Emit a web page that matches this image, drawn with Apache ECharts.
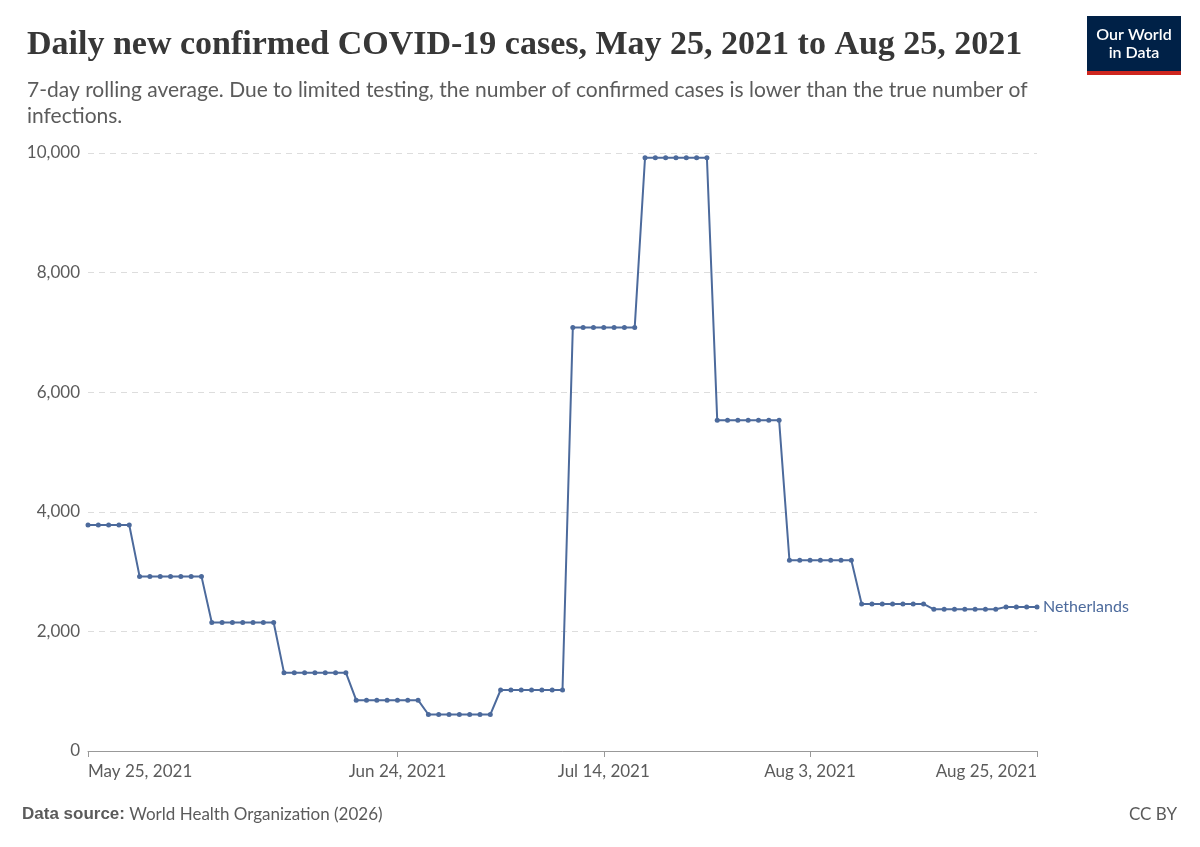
<!DOCTYPE html>
<html>
<head>
<meta charset="utf-8">
<script src="https://cdn.jsdelivr.net/npm/echarts@6/dist/echarts.min.js"></script>
<style>body{margin:0;background:#fff}#chart{width:1200px;height:847px}</style>
</head>
<body>
<div id="chart"></div>
<script>
var startDate = '2021-05-25';
var dayCount = 93;
var values = [
  3780, 3780, 3780, 3780, 3780,
  2920, 2920, 2920, 2920, 2920, 2920, 2920,
  2150, 2150, 2150, 2150, 2150, 2150, 2150,
  1310, 1310, 1310, 1310, 1310, 1310, 1310,
  850, 850, 850, 850, 850, 850, 850,
  610, 610, 610, 610, 610, 610, 610,
  1020, 1020, 1020, 1020, 1020, 1020, 1020,
  7080, 7080, 7080, 7080, 7080, 7080, 7080,
  9920, 9920, 9920, 9920, 9920, 9920, 9920,
  5530, 5530, 5530, 5530, 5530, 5530, 5530,
  3190, 3190, 3190, 3190, 3190, 3190, 3190,
  2460, 2460, 2460, 2460, 2460, 2460, 2460,
  2370, 2370, 2370, 2370, 2370, 2370, 2370,
  2410, 2410, 2410, 2410
];
var tickLabels = {0: 'May 25, 2021', 30: 'Jun 24, 2021', 50: 'Jul 14, 2021', 70: 'Aug 3, 2021', 92: 'Aug 25, 2021'};

var categories = [];
var d0 = new Date(startDate + 'T00:00:00Z');
for (var i = 0; i < dayCount; i++) {
  categories.push(new Date(d0.getTime() + i * 86400000).toISOString().slice(0, 10));
}

var myChart = echarts.init(document.getElementById('chart'));
var option = {
  animation: false,
  textStyle: { fontFamily: 'Lato' },
  grid: { left: 88, right: 163, top: 153, bottom: 96 },
  title: [{
    text: 'Daily new confirmed COVID-19 cases, May 25, 2021 to Aug 25, 2021',
    left: 22, top: 23,
    textStyle: { fontFamily: 'Liberation Serif', fontSize: 34, fontWeight: 'bold', color: '#373737' }
  }, {
    text: '7-day rolling average. Due to limited testing, the number of confirmed cases is lower than the true number of\ninfections.',
    left: 22, top: 72,
    textStyle: { fontFamily: 'Lato', fontSize: 21, fontWeight: 'normal', color: '#5b5b5b', lineHeight: 26 }
  }],
  graphic: [
    { type: 'rect', x: 1087, y: 16, shape: { width: 94, height: 55 }, style: { fill: '#002147' } },
    { type: 'rect', x: 1087, y: 71, shape: { width: 94, height: 4 }, style: { fill: '#ce261e' } },
    { type: 'text', x: 1134, y: 26, style: { text: 'Our World\nin Data', fill: '#fff', font: '600 16px Lato', align: 'center', lineHeight: 18 } },
    { type: 'text', x: 22, y: 806, style: { text: '{b|Data source:} World Health Organization (2026)', fill: '#5b5b5b', font: '17px Lato', rich: { b: { fontWeight: 'bold', fontSize: 17, fill: '#5b5b5b' } } } },
    { type: 'text', x: 1177, y: 806, style: { text: 'CC BY', fill: '#5b5b5b', font: '17px Lato', align: 'right' } }
  ],
  xAxis: {
    type: 'category',
    data: categories,
    boundaryGap: false,
    axisLine: { lineStyle: { color: '#999' } },
    axisTick: { alignWithLabel: true, length: 6, lineStyle: { color: '#999' }, interval: function (i) { return tickLabels[i] !== undefined; } },
    axisLabel: {
      interval: function (i) { return tickLabels[i] !== undefined; },
      formatter: function (v, i) { return tickLabels[i] || ''; },
      color: '#5b5b5b', fontSize: 17, margin: 12,
      alignMinLabel: 'left', alignMaxLabel: 'right',
      hideOverlap: false
    }
  },
  yAxis: {
    type: 'value', min: 0, max: 10000, interval: 2000,
    axisLine: { show: false }, axisTick: { show: false },
    splitLine: { lineStyle: { type: [6, 5], color: '#dddddd' } },
    axisLabel: {
      color: '#5b5b5b', fontSize: 17, margin: 8,
      formatter: function (v) { return v.toLocaleString('en-US'); }
    }
  },
  series: [{
    name: 'Netherlands',
    type: 'line',
    data: values,
    symbol: 'circle', symbolSize: 5,
    lineStyle: { color: '#4c6a9c', width: 2 },
    itemStyle: { color: '#4c6a9c' },
    endLabel: { show: true, formatter: 'Netherlands', color: '#4c6a9c', fontSize: 16, distance: 6 }
  }]
};
myChart.setOption(option);
</script>
</body>
</html>
